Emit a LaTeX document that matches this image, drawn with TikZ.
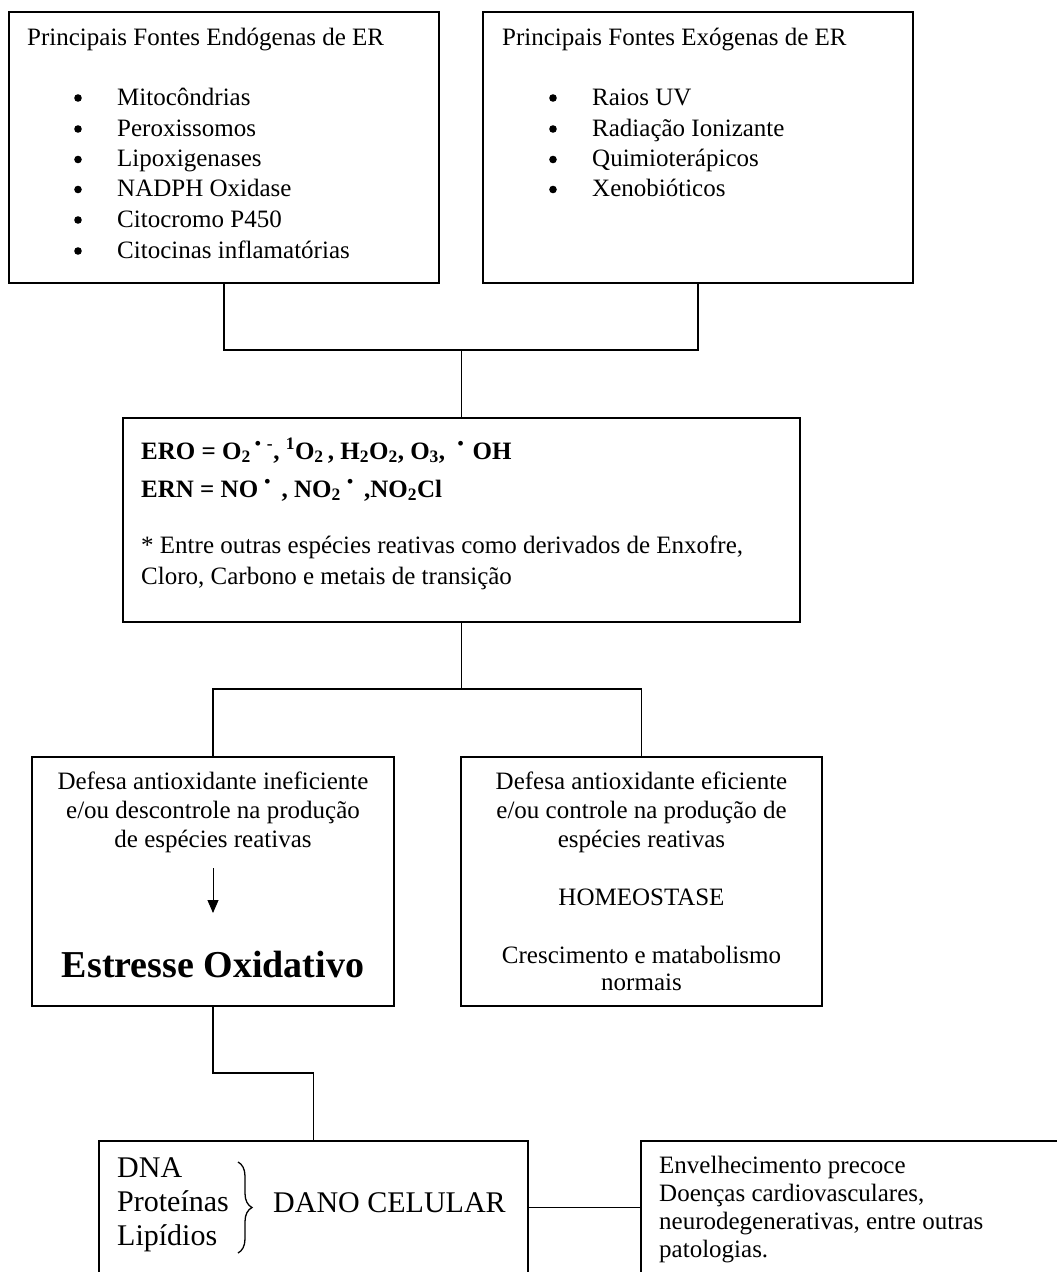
\documentclass[tikz,border=0pt]{standalone}
\usepackage{fontspec}
\setmainfont{Liberation Serif}
\usetikzlibrary{arrows.meta,decorations.pathreplacing}
\newcommand{\fsz}{\fontsize{25}{30}\selectfont}
\begin{document}
\begin{tikzpicture}[x=1pt,y=-1pt,
  box/.style={draw=black, line width=1.5pt, rectangle, inner sep=0pt},
  conn/.style={draw=black, line width=1.5pt},
  txt/.style={inner sep=0pt, anchor=base west, font=\fsz},
  ctxt/.style={inner sep=0pt, anchor=base, font=\fsz},
  btxt/.style={inner sep=0pt, anchor=base west, font=\bfseries\fsz},
  bigtxt/.style={inner sep=0pt, anchor=base west, font=\fontsize{30}{36}\selectfont},
  bul/.style={fill=black}]
\useasboundingbox (0,0) rectangle (1057,1272);
\clip (0,0) rectangle (1057,1272);

% boxes
\node[box, minimum width=430pt, minimum height=271pt] (endo) at (224,147.5) {};
\node[box, minimum width=430pt, minimum height=271pt] (exo) at (698,147.5) {};
\node[box, minimum width=677pt, minimum height=204pt] (ero) at (461.5,520) {};
\node[box, minimum width=362pt, minimum height=249pt] (inef) at (213,881.5) {};
\node[box, minimum width=361pt, minimum height=249pt] (efic) at (641.5,881.5) {};
\node[box, minimum width=429pt, minimum height=133pt] (dano) at (313.5,1207.5) {};
\node[box, minimum width=459pt, minimum height=133pt] (cons) at (870.5,1207.5) {};

% connectors
\coordinate (j1) at (461.5,350);
\draw[conn] (endo.south) |- (j1) -| (exo.south);
\draw[conn] (j1) -- (ero.north);
\coordinate (j2) at (461.5,689);
\draw[conn] (ero.south) -- (j2);
\draw[conn] (inef.north) |- (j2) -| (efic.north);
\coordinate (j3) at (313.5,1073);
\draw[conn] (inef.south) |- (j3) -- (dano.north);
\draw[conn] (dano.east) -- (cons.west);

% endogenous
\node[txt] (endoT) at (27,45) {Principais Fontes Endógenas de ER};
\foreach \t/\b [count=\i] in {Mitocôndrias/105, Peroxissomos/136, Lipoxigenases/166.5, NADPH Oxidase/196.5, Citocromo P450/227, Citocinas inflamatórias/258}{
  \fill[bul] (78,\b-7) circle (3.8pt);
  \node[txt] (endo\i) at (117,\b) {\t};
}
% exogenous
\node[txt] (exoT) at (502,45) {Principais Fontes Exógenas de ER};
\foreach \t/\b [count=\i] in {Raios UV/105, Radiação Ionizante/136, Quimioterápicos/166.5, Xenobióticos/196.5}{
  \fill[bul] (553,\b-7) circle (3.8pt);
  \node[txt] (exo\i) at (592,\b) {\t};
}

% ERO box
\node[btxt] (eroL1) at (141,459) {ERO = O\textsubscript{2}\,\textsuperscript{•\,\,-}, \textsuperscript{1}O\textsubscript{2}\,, H\textsubscript{2}O\textsubscript{2}, O\textsubscript{3}, \ \textsuperscript{•}\,\,OH};
\node[btxt] (eroL2) at (141,497) {ERN = NO\ \textsuperscript{•}\ \,, NO\textsubscript{2}\ \textsuperscript{•}\ \,,NO\textsubscript{2}Cl};
\node[txt] (eroL3) at (141,553) {* Entre outras espécies reativas como derivados de Enxofre,};
\node[txt] (eroL4) at (141,584) {Cloro, Carbono e metais de transição};

% inefficient defense
\node[ctxt] (in1) at (213,789) {Defesa antioxidante ineficiente};
\node[ctxt] (in2) at (213,818) {e/ou descontrole na produção};
\node[ctxt] (in3) at (213,847) {de espécies reativas};
\coordinate (arrA) at (213,868);
\coordinate (arrB) at (213,913);
\draw[line width=1pt, -{Triangle[length=13pt,width=11pt]}] (arrA) -- (arrB);
\node[inner sep=0pt, anchor=base, font=\bfseries\fontsize{38}{44}\selectfont] (stress) at (213,977) {Estresse Oxidativo};

% efficient defense
\node[ctxt] (ef1) at (641.5,789) {Defesa antioxidante eficiente};
\node[ctxt] (ef2) at (641.5,818) {e/ou controle na produção de};
\node[ctxt] (ef3) at (641.5,847) {espécies reativas};
\node[ctxt] (ef4) at (641.5,905) {HOMEOSTASE};
\node[ctxt] (ef5) at (641.5,963) {Crescimento e matabolismo};
\node[ctxt] (ef6) at (641.5,990) {normais};

% cellular damage
\node[bigtxt] (dna) at (117,1177) {DNA};
\node[bigtxt] (prot) at (117,1211) {Proteínas};
\node[bigtxt] (lip) at (117,1245) {Lipídios};
\coordinate (brA) at (238,1162);
\coordinate (brB) at (238,1253);
\draw[line width=1.3pt, decorate, decoration={brace, amplitude=14pt}] (brA) -- (brB);
\node[bigtxt] (dano1) at (273,1212) {DANO CELULAR};

% consequences
\node[txt] (c1) at (659,1173) {Envelhecimento precoce};
\node[txt] (c2) at (659,1201) {Doenças cardiovasculares,};
\node[txt] (c3) at (659,1229) {neurodegenerativas, entre outras};
\node[txt] (c4) at (659,1257) {patologias.};
\end{tikzpicture}
\end{document}
